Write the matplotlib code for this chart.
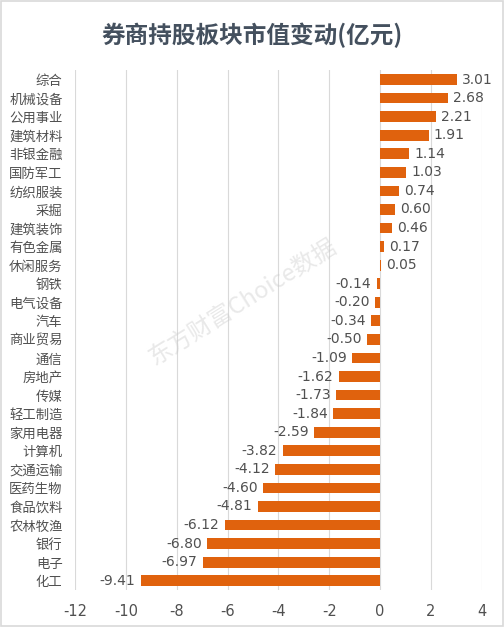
import matplotlib
matplotlib.use('Agg')
import matplotlib.pyplot as plt
import numpy as np

plt.rcParams['font.family'] = ['Noto Sans CJK SC', 'DejaVu Sans']

sectors = ['综合', '机械设备', '公用事业', '建筑材料', '非银金融', '国防军工', '纺织服装', '采掘',
           '建筑装饰', '有色金属', '休闲服务', '钢铁', '电气设备', '汽车', '商业贸易', '通信',
           '房地产', '传媒', '轻工制造', '家用电器', '计算机', '交通运输', '医药生物', '食品饮料',
           '农林牧渔', '银行', '电子', '化工']
values = [3.01, 2.68, 2.21, 1.91, 1.14, 1.03, 0.74, 0.60, 0.46, 0.17, 0.05, -0.14, -0.20, -0.34,
          -0.50, -1.09, -1.62, -1.73, -1.84, -2.59, -3.82, -4.12, -4.60, -4.81, -6.12, -6.80,
          -6.97, -9.41]
xticks = [-12, -10, -8, -6, -4, -2, 0, 2, 4]

bar_color = '#E0620D'
text_color = '#505050'

fig = plt.figure(figsize=(5.04, 6.27), dpi=100)
ax = fig.add_axes([0.149, 0.059, 0.807, 0.829])

y_pos = np.arange(len(sectors))
ax.barh(y_pos, values, height=0.58, color=bar_color, zorder=3)

for y, v in zip(y_pos, values):
    if v >= 0:
        ax.text(v + 0.2, y, '{:.2f}'.format(v), va='center', ha='left', fontsize=10,
                color=text_color, family='DejaVu Sans', zorder=4)
    else:
        ax.text(v - 0.22, y, '{:.2f}'.format(v), va='center', ha='right', fontsize=10,
                color=text_color, family='DejaVu Sans', zorder=4)

ax.set_xlim(-12, 4)
ax.set_ylim(len(sectors) - 0.5, -0.5)
ax.set_xticks(xticks)
ax.set_xticklabels([str(t) for t in xticks], fontsize=10.5, color=text_color, family='DejaVu Sans')
ax.set_yticks(y_pos)
ax.set_yticklabels(sectors, fontsize=9.6, color=text_color)
ax.tick_params(length=0)
ax.tick_params(axis='y', pad=9)
ax.tick_params(axis='x', pad=10)

ax.grid(axis='x', color='#D9D9D9', linewidth=0.8, zorder=0)
for s in ax.spines.values():
    s.set_visible(False)

fig.text(0.5, 0.944, '券商持股板块市值变动(亿元)', ha='center', va='center', fontsize=17,
         fontweight='bold', color='#44505E')

# watermark
fig.text(0.482, 0.518, '东方财富Choice数据', ha='center', va='center', fontsize=17,
         rotation=32, color='#C8C8C8', alpha=0.4)

# light border
fig.patches.append(plt.Rectangle((0.002, 0.002), 0.996, 0.996, transform=fig.transFigure,
                                 fill=False, edgecolor='#D9D9D9', linewidth=1.2))

fig.savefig('out.png', dpi=100)
